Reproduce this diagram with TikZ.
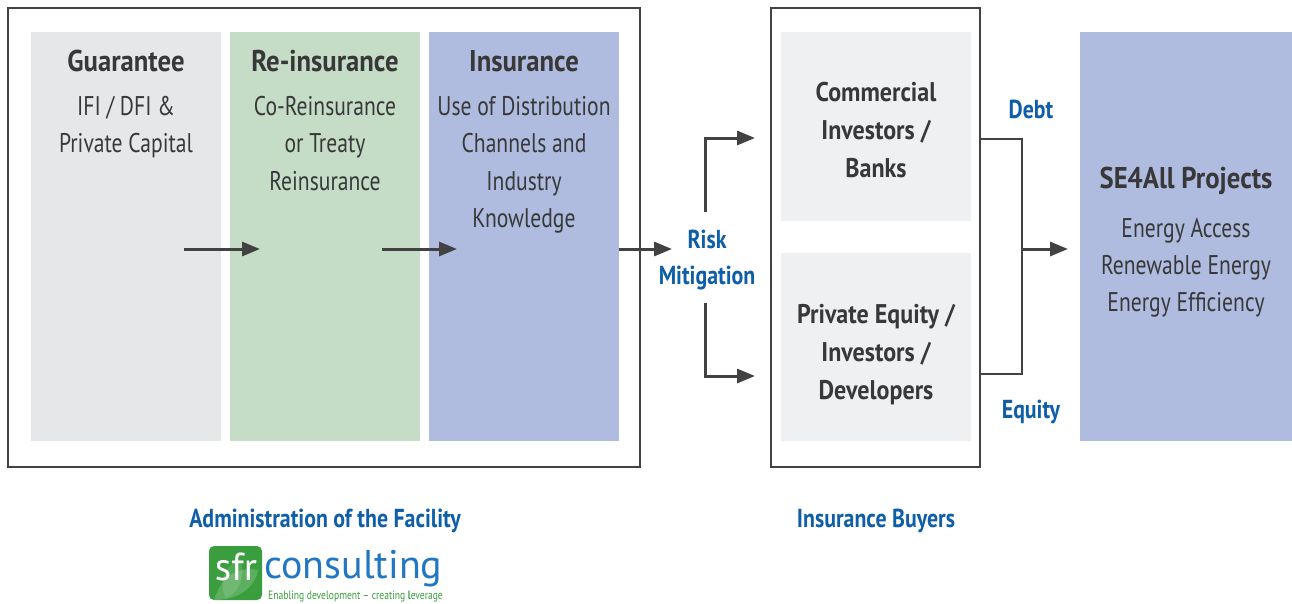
\documentclass[tikz,border=0pt]{standalone}
\usepackage{fontspec}
\setmainfont{PT Sans}[FakeStretch=0.8,BoldFeatures={FakeStretch=0.89}]
\newfontfamily\bluefont{PT Sans Bold}[FakeStretch=0.84]
\newfontfamily\logofont{PT Sans}[FakeStretch=1.0]
\newfontfamily\tagfont{PT Sans}[FakeStretch=0.8]
\usetikzlibrary{arrows.meta}
\definecolor{boxgray}{HTML}{E6E7E8}
\definecolor{boxgreen}{HTML}{C5DCC6}
\definecolor{boxblue}{HTML}{AFBCE0}
\definecolor{boxlight}{HTML}{EFF0F2}
\definecolor{txtdark}{HTML}{383838}
\definecolor{txtblue}{HTML}{0E5EA8}
\definecolor{linedark}{HTML}{424242}
\definecolor{logogreen}{HTML}{3A9E3E}
\definecolor{logoblue}{HTML}{2277C4}
\begin{document}
\begin{tikzpicture}[x=1pt,y=-1pt,
  frame/.style={draw=linedark,line width=2.8pt},
  conn/.style={draw=linedark,line width=3pt},
  arr/.style={conn,-{Triangle[length=18pt,width=14pt]}},
  title/.style={anchor=base,inner sep=0pt,text=txtdark,font=\fontsize{30}{36}\selectfont\bfseries},
  body/.style={anchor=base,inner sep=0pt,text=txtdark,font=\fontsize{27}{30}\selectfont},
  bbody/.style={anchor=base,inner sep=0pt,text=txtdark,font=\fontsize{27}{30}\selectfont\bfseries},
  blue/.style={anchor=base,inner sep=0pt,text=txtblue,font=\bluefont\fontsize{26}{30}\selectfont},
  panel/.style={anchor=north west,inner sep=0pt,outer sep=0pt,draw=none}
]
\useasboundingbox[fill=white] (0,0) rectangle (1292,603);

% frames
\draw[frame] (8,8) rectangle (640,467);
\draw[frame] (771,8) rectangle (980,467);

% panels
\node[panel,fill=boxgray,minimum width=190pt,minimum height=409pt] (guar) at (31,32) {};
\node[panel,fill=boxgreen,minimum width=190pt,minimum height=409pt] (rein) at (230,32) {};
\node[panel,fill=boxblue,minimum width=190pt,minimum height=409pt] (insu) at (429,32) {};
\node[panel,fill=boxlight,minimum width=190pt,minimum height=189pt] (comm) at (781,32) {};
\node[panel,fill=boxlight,minimum width=190pt,minimum height=188pt] (priv) at (781,253) {};
\node[panel,fill=boxblue,minimum width=212pt,minimum height=409pt] (proj) at (1080,32) {};

% texts left
\node[title] (t1) at (126,71) {Guarantee};
\node[body] (t1a) at (126,115) {IFI / DFI \&};
\node[body] (t1b) at (126,152.5) {Private Capital};

\node[title] (t2) at (325,71) {Re-insurance};
\node[body] (t2a) at (325,115) {Co-Reinsurance};
\node[body] (t2b) at (325,152.5) {or Treaty};
\node[body] (t2c) at (325,190) {Reinsurance};

\node[title] (t3) at (524,71) {Insurance};
\node[body] (t3a) at (524,115) {Use of Distribution};
\node[body] (t3b) at (524,152.5) {Channels and};
\node[body] (t3c) at (524,190) {Industry};
\node[body] (t3d) at (524,227.5) {Knowledge};

% middle texts
\node[bbody] (c1) at (876,101) {Commercial};
\node[bbody] (c2) at (876,139) {Investors /};
\node[bbody] (c3) at (876,177) {Banks};
\node[bbody] (p1) at (876,323) {Private Equity /};
\node[bbody] (p2) at (876,361) {Investors /};
\node[bbody] (p3) at (876,399) {Developers};

% right texts
\node[title] (s0) at (1186,188) {SE4All Projects};
\node[body] (s1) at (1186,237) {Energy Access};
\node[body] (s2) at (1186,274) {Renewable Energy};
\node[body] (s3) at (1186,311) {Energy Efficiency};

% blue labels
\node[blue] (risk) at (707,248) {Risk};
\node[blue] (miti) at (707,284) {Mitigation};
\node[blue] (debt) at (1031,118) {Debt};
\node[blue] (equi) at (1031,418) {Equity};
\node[blue] (adm) at (325,527) {Administration of the Facility};
\node[blue] (buy) at (876,527) {Insurance Buyers};

% connector coordinates
\coordinate (g1) at (184,249);
\coordinate (r1) at (260,249);
\coordinate (r2) at (382,249);
\coordinate (i1) at (457,249);
\coordinate (i2) at (619,249);
\coordinate (m1) at (672,249);
\coordinate (mu) at (705,212);
\coordinate (md) at (705,303);
\coordinate (cu) at (755,138);
\coordinate (cd) at (755,376);
\coordinate (b1) at (980,139);
\coordinate (b2) at (1022,139);
\coordinate (b3) at (1022,374);
\coordinate (b4) at (980,374);
\coordinate (bm) at (1022,249);
\coordinate (pe) at (1068,249);

\draw[arr] (g1) -- (r1);
\draw[arr] (r2) -- (i1);
\draw[arr] (i2) -- (m1);
\draw[arr] (mu) |- (cu);
\draw[arr] (md) |- (cd);
\draw[conn,line width=2.6pt] (b1) -- (b2) -- (b3) -- (b4);
\draw[arr] (bm) -- (pe);

% logo
\node[panel,fill=logogreen,rounded corners=5pt,minimum width=53pt,minimum height=54pt] (logo) at (209,546) {};
\begin{scope}
\clip[rounded corners=5pt] (209,546) rectangle (262,600);
\fill[white,opacity=0.18] (214,600) .. controls (222,575) and (240,566) .. (258,570) .. controls (254,590) and (236,600) .. (214,600) -- cycle;
\fill[white,opacity=0.12] (226,598) .. controls (218,582) and (224,566) .. (240,560) .. controls (246,576) and (240,592) .. (226,598) -- cycle;
\end{scope}
\node[anchor=base,inner sep=0pt,text=white,font=\logofont\fontsize{39}{40}\selectfont] (sfr) at (236,580) {sfr};
\node[anchor=base west,inner sep=0pt,text=logoblue,font=\logofont\fontsize{40}{42}\selectfont] (cons) at (264,578) {consulting};
\node[anchor=base west,inner sep=0pt,text=logogreen,font=\tagfont\fontsize{12}{14}\selectfont] (tag) at (268,599) {Enabling development – creating {\bfseries l}everage};
\end{tikzpicture}
\end{document}
